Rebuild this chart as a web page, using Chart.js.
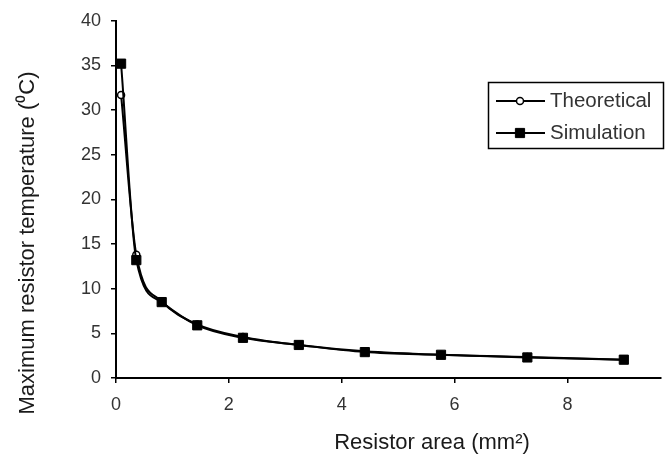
<!DOCTYPE html>
<html>
<head>
<meta charset="utf-8">
<script src="https://cdn.jsdelivr.net/npm/chart.js@4/dist/chart.umd.min.js"></script>
<style>
  html, body { margin: 0; padding: 0; background: #fff; }
  #wrap { width: 668px; height: 459px; }
</style>
</head>
<body>
<div id="wrap"><canvas id="grafico" width="668" height="459"></canvas></div>
<script>
// resistor areas (mm2)
const areas = [0.09, 0.36, 0.81, 1.44, 2.25, 3.24, 4.41, 5.76, 7.29, 9.0]
// max temperature, theoretical and simulated (C)
const teorico = [31.7, 13.8, 8.6, 6.0, 4.6, 3.7, 3.0, 2.6, 2.35, 2.05]
const simulado = [35.2, 13.2, 8.5, 5.9, 4.5, 3.7, 2.9, 2.6, 2.3, 2.05]
const nomes = ['Theoretical', 'Simulation']
const tituloX = 'Resistor area (mm\u00B2)'
const tituloY = 'Maximum resistor temperature (\u2070C)'
const yTicks = [0, 5, 10, 15, 20, 25, 30, 35, 40]
const xTicks = [0, 2, 4, 6, 8]

const fonte = '"Liberation Sans", Arial, Helvetica, sans-serif'

function pontos(ys) {
  return areas.map(function(a, i) { return { x: a, y: ys[i] } })
}

// axis titles + boxed legend like the excel original
const decor = {
  id: 'decor',
  afterDraw(chart) {
    const ctx = chart.ctx
    ctx.save()
    ctx.fillStyle = '#1a1a1a'
    ctx.font = '22px ' + fonte
    ctx.textAlign = 'center'
    ctx.textBaseline = 'middle'
    ctx.fillText(tituloX, 432, 443)
    ctx.translate(28, 243)
    ctx.rotate(-Math.PI / 2)
    ctx.fillText(tituloY, 0, 0)
    ctx.restore()

    // legend box
    ctx.save()
    ctx.strokeStyle = '#000'
    ctx.lineWidth = 1.5
    ctx.strokeRect(488.5, 82.5, 175, 66)
    const linhas = [101, 133]
    chart.data.datasets.forEach(function(ds, i) {
      const y = linhas[i]
      ctx.strokeStyle = '#000'
      ctx.lineWidth = 2
      ctx.beginPath()
      ctx.moveTo(496, y)
      ctx.lineTo(545, y)
      ctx.stroke()
      ctx.fillStyle = ds.pointBackgroundColor
      ctx.strokeStyle = ds.pointBorderColor
      ctx.lineWidth = ds.pointBorderWidth
      Chart.helpers.drawPoint(ctx, {
        pointStyle: ds.pointStyle, radius: ds.pointRadius, rotation: 0, borderWidth: ds.pointBorderWidth
      }, 520, y)
      ctx.fillStyle = '#333'
      ctx.font = '20.5px ' + fonte
      ctx.textAlign = 'left'
      ctx.textBaseline = 'middle'
      ctx.fillText(ds.label, 550, y)
    })
    ctx.restore()
  }
}

const ctx = document.getElementById('grafico').getContext('2d')
new Chart(ctx, {
  type: 'line',
  data: {
    datasets: [
      {
        label: nomes[0],
        data: pontos(teorico),
        borderColor: '#000',
        borderWidth: 2,
        pointStyle: 'circle',
        pointRadius: 3.5,
        pointBackgroundColor: '#fff',
        pointBorderColor: '#000',
        pointBorderWidth: 1.5,
        cubicInterpolationMode: 'monotone',
        order: 1
      },
      {
        label: nomes[1],
        data: pontos(simulado),
        borderColor: '#000',
        borderWidth: 2,
        pointStyle: 'rect',
        pointRadius: 6.5,
        pointBackgroundColor: '#000',
        pointBorderColor: '#000',
        pointBorderWidth: 1,
        cubicInterpolationMode: 'monotone',
        order: 0
      }
    ]
  },
  options: {
    responsive: false,
    animation: false,
    layout: { padding: { left: 0, right: 0, top: 20, bottom: 0 } },
    plugins: { legend: { display: false }, tooltip: { enabled: false } },
    scales: {
      x: {
        type: 'linear',
        min: 0,
        max: 9.65,
        afterFit: function(s) { s.height = 81 },
        afterBuildTicks: function(s) { s.ticks = xTicks.map(function(v) { return { value: v } }) },
        grid: { drawOnChartArea: false, drawTicks: true, tickLength: 5, color: '#000', lineWidth: 1.5 },
        border: { display: true, color: '#000', width: 2 },
        ticks: { color: '#333', font: { family: fonte, size: 18 }, padding: 11 }
      },
      y: {
        min: 0,
        max: 40,
        afterFit: function(s) { s.width = 116 },
        afterBuildTicks: function(s) { s.ticks = yTicks.map(function(v) { return { value: v } }) },
        grid: { drawOnChartArea: false, drawTicks: true, tickLength: 5, color: '#000', lineWidth: 1.5 },
        border: { display: true, color: '#000', width: 2 },
        ticks: { color: '#333', font: { family: fonte, size: 18 }, padding: 10 }
      }
    }
  },
  plugins: [decor]
})
</script>
</body>
</html>
